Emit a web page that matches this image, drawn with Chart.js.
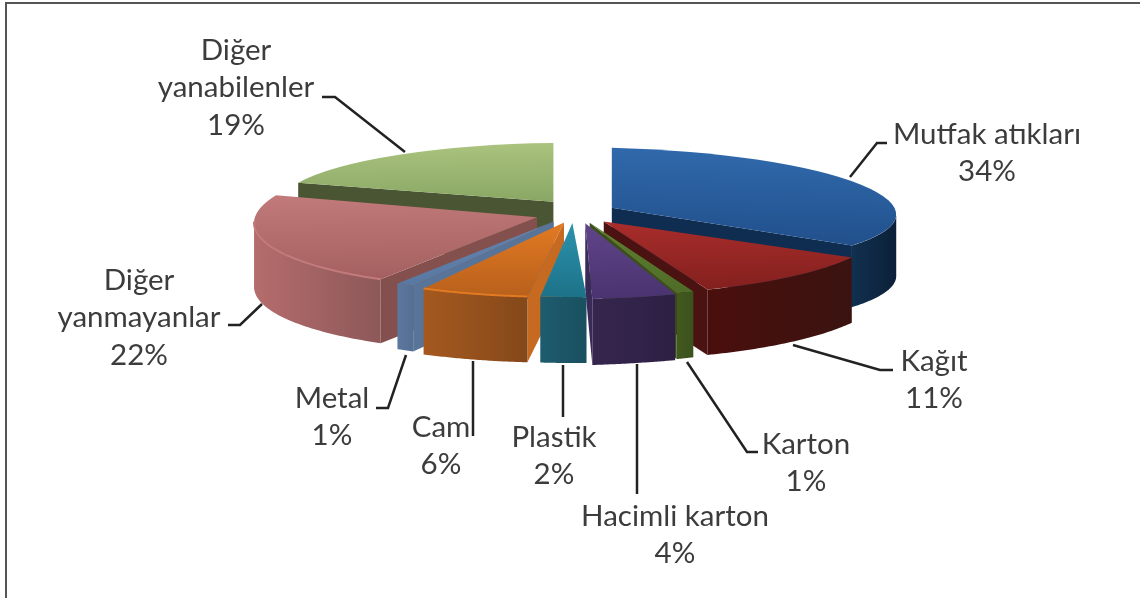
<!DOCTYPE html>
<html>
<head>
<meta charset="utf-8">
<title>Atık bileşimi</title>
<style>
    html, body { margin: 0; padding: 0; background: #fff; overflow: hidden; }
    #wrap { position: relative; width: 1140px; height: 598px; overflow: hidden; }
    #frame { position: absolute; left: 5px; top: 2px; width: 1200px; height: 700px; border: 2px solid #555; box-sizing: border-box; }
    canvas { position: absolute; left: 0; top: 0; }
</style>
<script src="https://cdn.jsdelivr.net/npm/chart.js@4/dist/chart.umd.min.js"></script>
</head>
<body>
<div id="wrap">
    <div id="frame"></div>
    <canvas id="pie" width="1140" height="598"></canvas>
</div>
<script>
const categories = ['Mutfak atıkları', 'Kağıt', 'Karton', 'Hacimli karton', 'Plastik', 'Cam', 'Metal', 'Diğer yanmayanlar', 'Diğer yanabilenler'];
const shares = [34, 11, 1, 4, 2, 6, 1, 22, 19];

// top face gradient, cut face, outer wall (left, right)
const topLight = ['#3069ab', '#a92d2b', '#5f8030', '#604589', '#2b93ad', '#e27a22', '#6584ad', '#c27a7a', '#aac37e'];
const topDark = ['#21508c', '#83201e', '#4f6c28', '#4a3370', '#1d7288', '#b8601c', '#5878a2', '#a46060', '#89a764'];
const faceColor = ['#0f2d50', '#4a1210', '#3a4f1c', '#3a2a58', '#1d6476', '#c56a20', '#587499', '#84504e', '#4a5534'];
const wallLeft = ['#11304f', '#4a0f0d', '#42591f', '#36264f', '#1d5c6e', '#a5591f', '#5d789e', '#b56c6c', '#4a5534'];
const wallRight = ['#0c2038', '#3a1310', '#3c521d', '#2d2044', '#1a5060', '#84481a', '#546e94', '#8d5859', '#4a5534'];
// only these two have a visible bevel line
const rimGlow = [false, false, false, false, false, true, false, true, false];

// where the flat pie lands on the page
const centerX = 575, centerY = 212;
const explode = 42;

// the original has real perspective, canvas only does affine, so each slice gets its own
const spreadX = [1.005, 1, 1, 1.18, 1.3, 1.03, 1.03, 1, 0.97];
const spreadY = [0.212, 0.257, 0.265, 0.268, 0.262, 0.2625, 0.26, 0.25, 0.208];
const shearX = [0, 0.06, 0.06, 0.025, 0.05, 0, 0, -0.02, 0];
const shearY = [0.024, -0.013, -0.03, -0.035, 0, -0.007, 0, -0.015, -0.01];
const nudgeX = [0, 3, 3, 5, 0, 2, 0, 2, 2];
const nudgeY = [0, 1, 0, 0, 0, 0, 0, 2, -3];

function sliceAngles(i) {
    const total = shares.reduce((a, b) => a + b, 0);
    const before = shares.slice(0, i).reduce((a, b) => a + b, 0);
    const a0 = before / total * Math.PI * 2 - Math.PI / 2;
    return [a0, a0 + shares[i] / total * Math.PI * 2];
}

function view(i) {
    const [a0, a1] = sliceAngles(i);
    const mid = (a0 + a1) / 2;
    return {
        mid,
        x: centerX + Math.cos(mid) * explode + nudgeX[i],
        y: centerY + Math.sin(mid) * explode * spreadY[i] + nudgeY[i],
        depth: 63 + 3 * Math.sin(mid)
    };
}

// flat pie point -> page point
function project(i, R, angle) {
    const p = view(i);
    const px = R * Math.cos(angle), py = R * Math.sin(angle);
    return [p.x + spreadX[i] * px + shearX[i] * py, p.y + shearY[i] * px + spreadY[i] * py];
}

function topGradient(context) {
    const i = context.dataIndex;
    const chart = context.chart;
    const [a0, a1] = sliceAngles(i);
    const R = 283;
    const ys = [0, Math.sin(a0) * R, Math.sin(a1) * R];
    if (a0 < Math.PI / 2 && a1 > Math.PI / 2) ys.push(R);
    if (a0 < -Math.PI / 2 + 1e-6 || a1 > Math.PI * 1.5 - 1e-6) ys.push(-R);
    const cy = chart.height / 2;
    const g = chart.ctx.createLinearGradient(0, cy + Math.min(...ys), 0, cy + Math.max(...ys));
    g.addColorStop(0, topLight[i]);
    g.addColorStop(1, topDark[i]);
    return g;
}

function drawCutFace(ctx, i, R, angle) {
    const p = view(i);
    const rim = project(i, R, angle);
    ctx.fillStyle = faceColor[i];
    ctx.beginPath();
    ctx.moveTo(p.x, p.y);
    ctx.lineTo(rim[0], rim[1]);
    ctx.lineTo(rim[0], rim[1] + p.depth);
    ctx.lineTo(p.x, p.y + p.depth);
    ctx.closePath();
    ctx.fill();
}

function rimPoints(i, R, from, to) {
    const pts = [];
    for (let k = 0; k <= 48; k++) {
        pts.push(project(i, R, from + (to - from) * k / 48));
    }
    return pts;
}

function drawWall(ctx, i, R, a0, a1) {
    // only the part of the rim that faces us
    const from = Math.max(a0, 0);
    const to = Math.min(a1, Math.PI);
    if (to <= from) return;
    const p = view(i);
    const pts = rimPoints(i, R, from, to);
    const xs = pts.map(q => q[0]);
    const g = ctx.createLinearGradient(Math.min(...xs), 0, Math.max(...xs), 0);
    g.addColorStop(0, wallLeft[i]);
    g.addColorStop(1, wallRight[i]);
    ctx.fillStyle = g;
    ctx.beginPath();
    pts.forEach((q, k) => k ? ctx.lineTo(q[0], q[1]) : ctx.moveTo(q[0], q[1]));
    pts.slice().reverse().forEach(q => ctx.lineTo(q[0], q[1] + p.depth));
    ctx.closePath();
    ctx.fill();
}

function drawRimLight(ctx, i, R, a0, a1) {
    const from = Math.max(a0, 0);
    const to = Math.min(a1, Math.PI);
    if (to <= from || !rimGlow[i]) return;
    ctx.strokeStyle = topLight[i];
    ctx.lineWidth = 2;
    ctx.beginPath();
    rimPoints(i, R, from, to).forEach((q, k) => k ? ctx.lineTo(q[0], q[1]) : ctx.moveTo(q[0], q[1]));
    ctx.stroke();
}

const solidPie = {
    id: 'solidPie',
    beforeDatasetsDraw(chart) {
        const ctx = chart.ctx;
        const arcs = chart.getDatasetMeta(0).data;
        const order = arcs.map((a, i) => i).sort((a, b) => Math.sin(view(a).mid) - Math.sin(view(b).mid));
        order.forEach(i => {
            const arc = arcs[i];
            const p = view(i);
            const R = arc.outerRadius;
            const [a0, a1] = sliceAngles(i);
            if (Math.cos(a0) < -1e-6) drawCutFace(ctx, i, R, a0);
            if (Math.cos(a1) > -0.01) drawCutFace(ctx, i, R, a1);
            drawWall(ctx, i, R, a0, a1);
            ctx.save();
            ctx.transform(spreadX[i], shearY[i], shearX[i], spreadY[i], p.x, p.y);
            ctx.translate(-arc.x, -arc.y);
            arc.draw(ctx, chart.chartArea);
            ctx.restore();
            drawRimLight(ctx, i, R, a0, a1);
        });
        return false;
    }
};

// label boxes and leader lines, by hand like the original
const labelLines = [['Mutfak atıkları'], ['Kağıt'], ['Karton'], ['Hacimli karton'], ['Plastik'], ['Cam'], ['Metal'], ['Diğer', 'yanmayanlar'], ['Diğer', 'yanabilenler']];
const labelX = [987, 934, 806, 675, 554, 441, 332, 139, 236];
const labelY = [134, 361, 444, 516, 437, 427, 398, 280, 50];
const leaders = [
    [[850, 177], [877, 143], [887, 143]],
    [[793, 345], [880, 370], [893, 370]],
    [[687, 362], [747, 452], [758, 452]],
    [[637, 364], [637, 494]],
    [[563, 365], [563, 417]],
    [[473, 361], [473, 436]],
    [[406, 355], [388, 408], [376, 408]],
    [[262, 304], [240, 325], [228, 325]],
    [[405, 152], [335, 97], [322, 97]]
];

const pieLabels = {
    id: 'pieLabels',
    afterDraw(chart) {
        const ctx = chart.ctx;
        ctx.save();
        ctx.strokeStyle = '#222';
        ctx.lineWidth = 2.5;
        leaders.forEach(line => {
            ctx.beginPath();
            line.forEach((pt, k) => k ? ctx.lineTo(pt[0], pt[1]) : ctx.moveTo(pt[0], pt[1]));
            ctx.stroke();
        });
        ctx.fillStyle = '#3c3c3c';
        ctx.font = '29.5px Lato';
        ctx.textAlign = 'center';
        ctx.textBaseline = 'middle';
        labelLines.forEach((lines, i) => {
            lines.concat(shares[i] + '%').forEach((txt, k) => {
                ctx.fillText(txt, labelX[i], labelY[i] + k * 37.5);
            });
        });
        ctx.restore();
    }
};

new Chart(document.getElementById('pie'), {
    type: 'pie',
    data: {
        labels: categories,
        datasets: [{
            data: shares,
            backgroundColor: topGradient,
            borderWidth: 0,
            clip: false
        }]
    },
    options: {
        responsive: false,
        animation: false,
        layout: { padding: 16 },
        plugins: { legend: { display: false }, tooltip: { enabled: false } }
    },
    plugins: [solidPie, pieLabels]
});
</script>
</body>
</html>
